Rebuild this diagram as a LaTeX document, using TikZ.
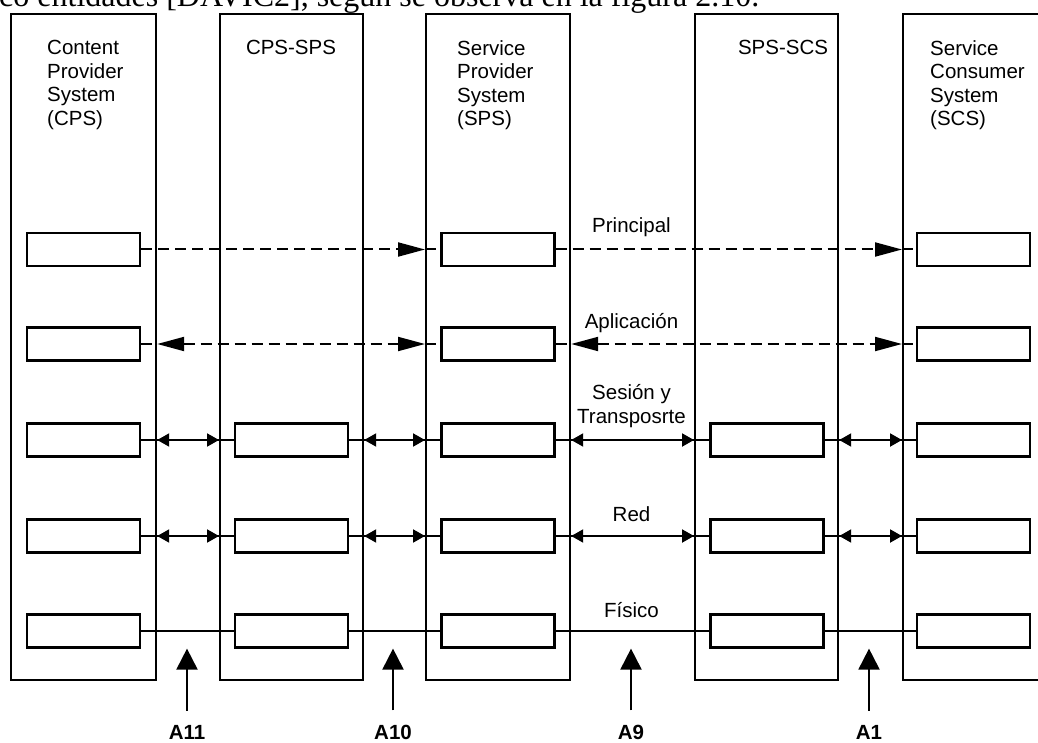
\documentclass[tikz,border=0pt]{standalone}
\usepackage{fontspec}
\setmainfont{Liberation Sans}
\newfontfamily\bookfont{Liberation Serif}
\usetikzlibrary{arrows.meta}

\begin{document}
\begin{tikzpicture}[
    x=1pt, y=-1pt,
    col/.style={rectangle, draw, line width=2.2pt, minimum height=666pt,
                anchor=north west, inner sep=0pt},
    layer/.style={rectangle, draw, line width=2.2pt, minimum width=113pt,
                  minimum height=33pt, inner sep=0pt},
    ttl/.style={font=\fontsize{20.5}{23.5}\selectfont, inner sep=0pt, align=left},
    lbl/.style={font=\fontsize{20.5}{24.5}\selectfont, inner sep=0pt, align=center},
    dline/.style={line width=2pt, dash pattern=on 11pt off 6pt},
    sline/.style={line width=2pt},
    dtip/.style={-{Triangle[length=27pt,width=14pt]}},
    dboth/.style={{Triangle[length=27pt,width=14pt]}-{Triangle[length=27pt,width=14pt]}},
    sboth/.style={{Triangle[length=12pt,width=13pt]}-{Triangle[length=12pt,width=13pt]}},
    uparrow/.style={-{Triangle[length=21pt,width=21pt]}, line width=2pt, shorten <=14pt}
  ]
  \useasboundingbox (0,0) rectangle (1038,743);
  \clip (0,0) rectangle (1038,743);

  \node[anchor=base west, inner sep=0pt, font=\bookfont\fontsize{32}{36}\selectfont] (cita)
    at (-1,7) {co entidades [DAVIC2], según se observa en la figura 2.10.};

  \foreach \n/\x/\w in {cps/10/145, cpssps/219/143, sps/425/144, spsscs/694/143, scs/902/150}
    \node[col, minimum width=\w pt] (\n) at (\x,13) {};

  \node[ttl, anchor=north west] (tcps) at (47,40) {Content\\Provider\\System\\(CPS)};
  \node[ttl, anchor=north] (tcpssps) at (291,40) {CPS-SPS};
  \node[ttl, anchor=north west] (tsps) at (457,40) {Service\\Provider\\System\\(SPS)};
  \node[ttl, anchor=north] (tspsscs) at (783,40) {SPS-SCS};
  \node[ttl, anchor=north west] (tscs) at (930,40) {Service\\Consumer\\System\\(SCS)};

  \foreach \n/\x in {cps/83.5, sps/498, scs/973.5}
    \foreach \r/\y in {1/249.5, 2/344}
      \node[layer] (\n\r) at (\x,\y) {};
  \foreach \n/\x in {cps/83.5, cpssps/291.5, sps/498, spsscs/767, scs/973.5}
    \foreach \r/\y in {3/440, 4/536, 5/631}
      \node[layer] (\n\r) at (\x,\y) {};

  \node[lbl, anchor=base] (lprin) at (631.5,233) {Principal};
  \node[lbl, anchor=base] (lapl) at (631.5,328) {Aplicación};
  \node[lbl, anchor=south] (lses) at (631.5,428) {Sesión y\\Transposrte};
  \node[lbl, anchor=base] (lred) at (631.5,521) {Red};
  \node[lbl, anchor=base] (lfis) at (631.5,617) {Físico};

  \draw[dline, dtip] (cps1) -- (cps1 -| sps.west);
  \draw[dline] (cps1 -| sps.west) -- (sps1);
  \draw[dline, dtip] (sps1) -- (sps1 -| scs.west);
  \draw[dline] (sps1 -| scs.west) -- (scs1);
  \draw[dline] (cps2) -- (cps2 -| cps.east);
  \draw[dline, dboth] (cps2 -| cps.east) -- (sps2 -| sps.west);
  \draw[dline] (sps2 -| sps.west) -- (sps2);
  \draw[dline] (sps2) -- (sps2 -| sps.east);
  \draw[dline, dboth] (sps2 -| sps.east) -- (scs2 -| scs.west);
  \draw[dline] (scs2 -| scs.west) -- (scs2);

  \foreach \a/\b in {cps/cpssps, cpssps/sps, sps/spsscs, spsscs/scs} {
    \foreach \r in {3,4,5}
      \draw[sline] (\a\r) -- (\b\r);
    \foreach \r in {3,4}
      \draw[sline, sboth] (\a\r -| \a.east) -- (\b\r -| \b.west);
  }

  \foreach \l/\x in {A11/187, A10/393, A9/631, A1/869} {
    \node[lbl, anchor=base, font=\fontsize{20.5}{24.5}\selectfont\bfseries] (p\l) at (\x,739) {\l};
    \draw[uparrow] (p\l) -- (p\l |- cps5.south);
  }
\end{tikzpicture}
\end{document}
